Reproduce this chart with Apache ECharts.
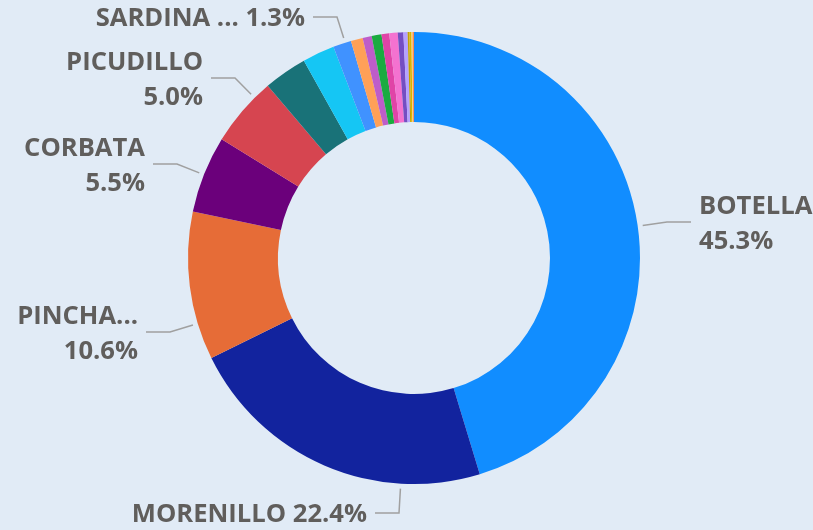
<!DOCTYPE html>
<html>
<head>
<meta charset="utf-8">
<title>Especies</title>
<script src="https://cdn.jsdelivr.net/npm/echarts@6/dist/echarts.min.js"></script>
<style>
    html, body { margin: 0; padding: 0; background: #e1ebf6; }
    #chart { width: 813px; height: 530px; }
    .edge { position: absolute; left: 4px; top: 0; width: 2px; height: 530px; background: #a6a6a6; }
</style>
</head>
<body>
<div class="edge"></div>
<div id="chart"></div>
<script>
// datos: especies y porcentaje del total
var species = ['BOTELLA', 'MORENILLO', 'PINCHAGUA', 'CORBATA', 'PICUDILLO', 'CHUHUECO', 'JUREL',
    'SARDINA REDONDA', 'CABALLA', 'LISA', 'ROBALO', 'DORADO', 'PAMPANO', 'CORVINA', 'PARGO',
    'MERO', 'BAGRE', 'CAMOTILLO', 'ATUN'];
var shares = [45.3, 22.4, 10.6, 5.5, 5.0, 3.1, 2.3, 1.3, 0.85, 0.65, 0.7, 0.55, 0.6, 0.4, 0.3,
    0.12, 0.15, 0.08, 0.1];
// texto visible de las etiquetas (solo algunas especies)
var labelNames = { 0: 'BOTELLA', 1: 'MORENILLO', 2: 'PINCHA...', 3: 'CORBATA', 4: 'PICUDILLO', 7: 'SARDINA ...' };
var oneLine = [1, 7];

var colors = ['#118DFF', '#12239E', '#E66C37', '#6B007B', '#D64550', '#197278', '#15C6F4',
    '#4092FF', '#FFA058', '#BE5DC9', '#1AAB40', '#E044A7', '#F472D0', '#744EC2', '#B5A1FF',
    '#C4A200', '#D9B300', '#FFD36E', '#FF8A4C'];

// geometria del anillo
var pieCenter = [414, 258];
var outerR = 226, innerR = 136;
// posicion de las etiquetas [x, y, align]
var labelPos = {
    0: [691, 224, 'left'],
    1: [375, 515, 'right'],
    2: [146, 334, 'right'],
    3: [153, 166, 'right'],
    4: [211, 80, 'right'],
    7: [313, 19, 'right']
};

var myChart = echarts.init(document.getElementById('chart'));

var seriesData = species.map(function (name, i) {
    var item = { name: name, value: shares[i], itemStyle: { color: colors[i] } };
    if (labelNames[i] === undefined) {
        item.label = { show: false };
        item.labelLine = { show: false };
    }
    return item;
});

myChart.setOption({
    backgroundColor: '#e1ebf6',
    animation: false,
    series: [
        {
            type: 'pie',
            center: pieCenter,
            radius: [innerR, outerR],
            startAngle: 90,
            clockwise: true,
            avoidLabelOverlap: false,
            data: seriesData,
            label: {
                show: true,
                color: '#605E5C',
                fontFamily: 'Open Sans',
                fontWeight: 'bold',
                fontSize: 25.6,
                lineHeight: 35,
                padding: [0, 8],
                formatter: function (p) {
                    var pct = p.percent.toFixed(1) + '%';
                    var sep = oneLine.indexOf(p.dataIndex) >= 0 ? ' ' : '\n';
                    return labelNames[p.dataIndex] + sep + pct;
                }
            },
            labelLine: {
                show: true,
                length: 10,
                length2: 24,
                lineStyle: { color: '#a0a0a0', width: 1.5 }
            },
            // linea guia: tramo horizontal y luego hacia el borde del anillo
            labelLayout: function (params) {
                var p = labelPos[params.dataIndex];
                if (!p) return;
                var dir = p[2] === 'left' ? -1 : 1;
                var ly = p[1] - 2;
                var bend = [p[0] + dir * 24, ly];
                var dx = bend[0] - pieCenter[0], dy = bend[1] - pieCenter[1];
                var d = Math.sqrt(dx * dx + dy * dy);
                var start = [pieCenter[0] + dx / d * (outerR + 5), pieCenter[1] + dy / d * (outerR + 5)];
                return {
                    x: p[0], y: p[1], align: p[2], verticalAlign: 'middle',
                    labelLinePoints: [start, bend, [p[0], ly]]
                };
            }
        }
    ]
});
</script>
</body>
</html>
